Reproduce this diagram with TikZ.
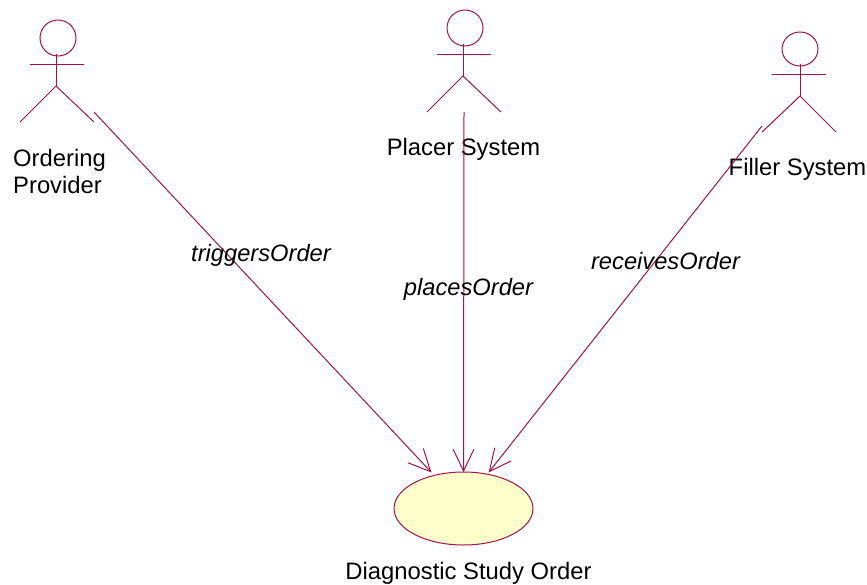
\documentclass[tikz,border=0pt]{standalone}
\usepackage{fontspec}
\setmainfont{Liberation Sans}
\usetikzlibrary{shapes.geometric}
\definecolor{umlline}{HTML}{A5134A}
\definecolor{umlfill}{HTML}{FFFFCC}
\pgfarrowsdeclare{openv}{openv}
{\pgfarrowsleftextend{-22pt}\pgfarrowsrightextend{0.5pt}}
{\pgfsetlinewidth{1pt}\pgfsetdash{}{0pt}
 \pgfpathmoveto{\pgfpoint{-22pt}{10.5pt}}
 \pgfpathlineto{\pgfpoint{0pt}{0pt}}
 \pgfpathlineto{\pgfpoint{-22pt}{-10.5pt}}
 \pgfusepathqstroke}
\tikzset{
  x=1pt,y=-1pt,
  umlstroke/.style={draw=umlline,line width=1pt},
  actorlabel/.style={inner sep=0pt,font=\fontsize{23.8}{27}\selectfont,text=black},
  rolelabel/.style={inner sep=0pt,font=\fontsize{23.7}{27}\selectfont\itshape,text=black},
  assoc/.style={umlstroke,-openv},
  pics/actor/.style 2 args={code={
    \draw[umlstroke] (#1,-30-#2) ellipse[x radius=18,y radius=#2];
    \draw[umlstroke] (0,-32) -- (0,0);
    \draw[umlstroke] (-26,-22) -- (28,-22);
    \draw[umlstroke] (-36,36) -- (0,0) -- (38,36);
  }}
}
\begin{document}
\begin{tikzpicture}
\useasboundingbox (0,0) rectangle (867,584);
\pic at (56,86) {actor={2}{18}};
\pic at (463,76) {actor={2}{18}};
\pic[xscale=-1] at (800,96) {actor={0}{17}};
\node[actorlabel,align=left,anchor=west] (ordering) at (13,171) {Ordering\\Provider};
\node[actorlabel] (placer) at (463.5,149) {Placer System};
\node[actorlabel] (filler) at (797.5,169) {Filler System};
\node[draw=umlline,line width=1pt,fill=umlfill,shape=ellipse,minimum width=139,minimum height=73,inner sep=0pt] (order) at (463.5,508.5) {};
\node[actorlabel] (ordername) at (468.5,573) {Diagnostic Study Order};
\coordinate (start1) at (94,112);
\coordinate (start2) at (464,112);
\coordinate (start3) at (762,126);
\coordinate (end1) at (431,472);
\coordinate (end3) at (489,472);
\draw[assoc] (start1) -- (end1);
\draw[assoc] (start2) -- (order.north);
\draw[assoc] (start3) -- (end3);
\node[rolelabel] (trig) at (261,255) {triggersOrder};
\node[rolelabel] (plac) at (468.5,289) {placesOrder};
\node[rolelabel] (recv) at (665.5,261) {receivesOrder};
\end{tikzpicture}
\end{document}
